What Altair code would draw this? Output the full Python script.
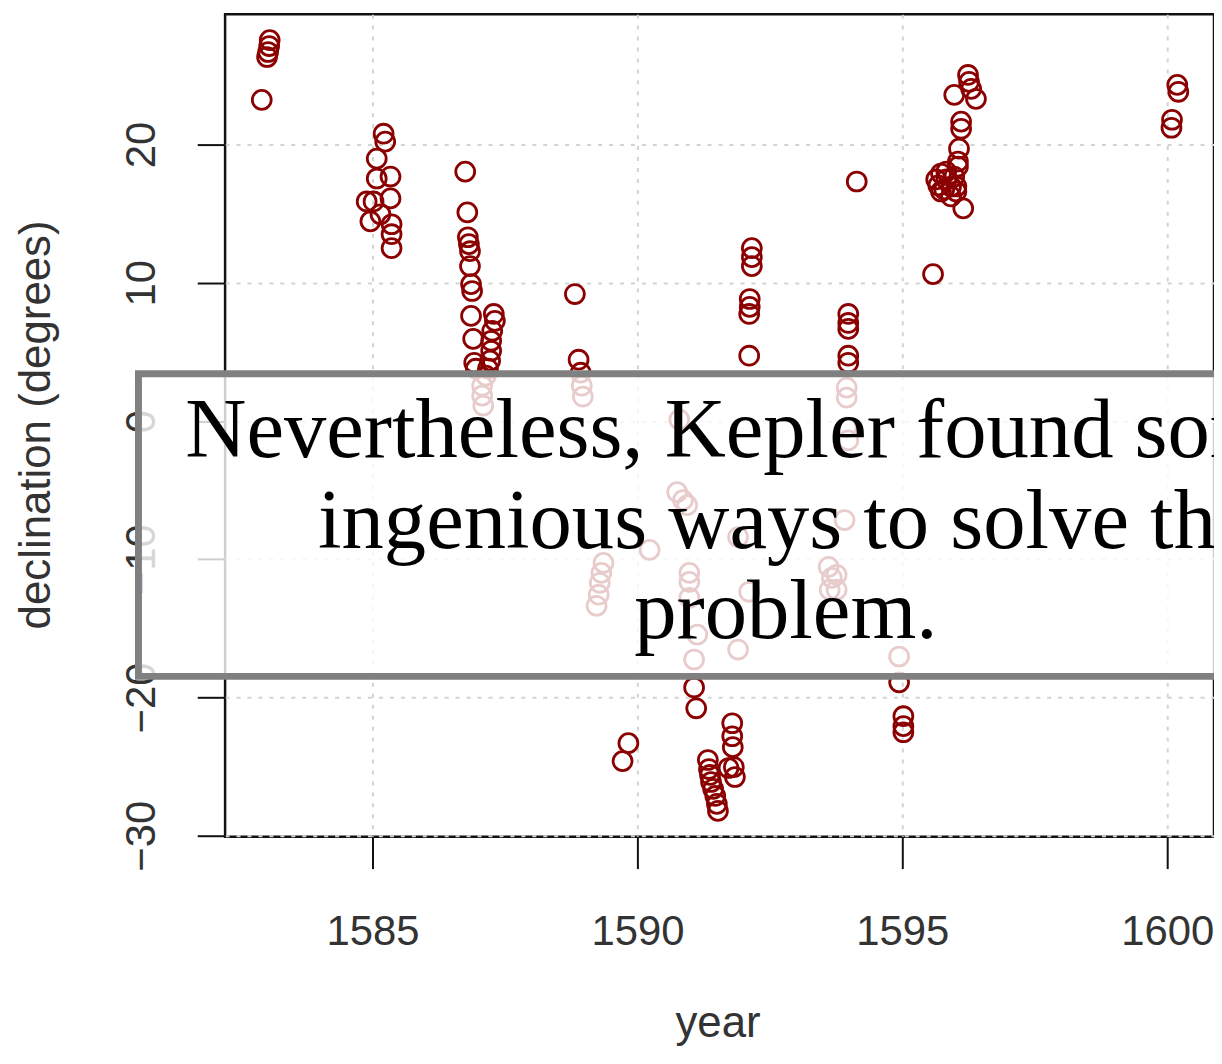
import altair as alt
import pandas as pd

years = [
    1583.06, 1583.05, 1583.03, 1583.01, 1582.91,
    1585.21, 1585.24, 1585.08, 1585.34, 1585.08, 1584.89, 1585.34, 1585.02,
    1585.15, 1584.96, 1585.36, 1585.36, 1585.36,
    1586.75, 1586.79, 1586.80, 1586.82, 1586.84, 1586.84, 1586.86, 1586.88,
    1586.86, 1586.90, 1586.92, 1586.95,
    1587.29, 1587.31, 1587.26, 1587.24, 1587.24, 1587.22, 1587.18, 1587.14,
    1587.07, 1587.07, 1587.09,
    1588.82, 1588.89, 1588.93, 1588.95, 1588.97,
    1589.36, 1589.32, 1589.29, 1589.27, 1589.23, 1589.83, 1589.72,
    1590.79, 1590.75, 1590.86, 1590.94, 1590.23, 1590.98, 1590.98, 1590.98,
    1591.13, 1591.07, 1591.07, 1591.11,
    1591.79, 1591.79, 1591.80, 1591.82, 1591.84, 1591.72,
    1591.33, 1591.35, 1591.37, 1591.39, 1591.43, 1591.47, 1591.50, 1591.52,
    1592.16, 1592.16, 1592.16, 1592.12, 1592.12, 1592.11, 1592.11,
    1591.90, 1592.11, 1591.90,
    1594.14, 1593.98, 1593.98, 1593.98, 1593.98, 1593.98,
    1593.95, 1593.95, 1593.95, 1593.98, 1593.91,
    1593.61, 1593.67, 1593.63, 1593.76, 1593.76,
    1594.94, 1594.94, 1595.02, 1595.02, 1595.02,
    1595.58,
    1596.24, 1596.26, 1596.30, 1596.39, 1595.98, 1596.11, 1596.11, 1596.07, 1596.05,
    1595.73, 1595.83, 1595.68, 1595.92, 1595.79, 1595.98, 1596.02,
    1595.64, 1595.73, 1595.92, 1596.02, 1595.83, 1596.05, 1596.15,
    1600.19, 1600.21, 1600.09, 1600.08,
]
declination = [
    27.56, 27.13, 26.70, 26.34, 23.24,
    20.79, 20.22, 18.99, 17.69, 17.55, 15.89, 16.11, 15.89,
    14.96, 14.45, 14.24, 13.52, 12.51,
    18.05, 15.10, 13.30, 12.80, 12.29, 11.21, 9.91, 9.41,
    7.61, 5.95, 4.22, 3.79,
    7.75, 7.25, 6.53, 5.81, 5.09, 4.37, 3.79, 3.29,
    2.56, 1.84, 1.12,
    9.19, 4.44, 3.50, 2.56, 1.77,
    -10.26, -10.98, -11.70, -12.56, -13.36, -23.30, -24.60,
    0.11, -5.14, -5.72, -6.08, -9.32, -10.98, -11.63, -12.78,
    -15.45, -17.25, -19.27, -20.78,
    -21.86, -22.80, -23.59, -25.03, -25.75, -25.10,
    -24.52, -25.17, -25.60, -26.11, -26.61, -27.12, -27.69, -28.20,
    12.51, 11.86, 11.21, 8.83, 8.26, 7.75, 4.73,
    -8.39, -12.35, -16.53,
    17.33, 7.75, 7.10, 6.67, 4.73, 4.22,
    2.42, 1.70, -0.46, -1.40, -7.16,
    -10.55, -11.34, -12.20, -11.12, -12.20,
    -17.03, -18.90, -21.35, -22.07, -22.51,
    10.63,
    25.04, 24.54, 24.03, 23.31, 23.60, 21.66, 21.15, 19.71, 18.78,
    17.91, 17.48, 17.05, 16.97, 16.76, 17.69, 16.61,
    17.48, 16.61, 16.25, 16.97, 18.05, 18.41, 15.39,
    24.32, 23.82, 21.80, 21.22,
]

x_ticks = [1585, 1590, 1595, 1600]
y_ticks = [-30, -20, -10, 0, 10, 20]
x_domain = [1582.218, 1600.883]
y_domain = [-30.07, 29.44]

caption_lines = ["Nevertheless, Kepler found some", "ingenious ways to solve the", "problem."]

df = pd.DataFrame({"year": years, "declination": declination})
one = pd.DataFrame({"k": [0]})

points = alt.Chart(df).mark_point(
    shape="circle", filled=False, size=360, strokeWidth=2.8,
    color="#8B0000", opacity=1
).encode(
    x=alt.X("year:Q", scale=alt.Scale(domain=x_domain, nice=False, zero=False),
            axis=alt.Axis(values=x_ticks, title="year", format="d",
                          tickSize=32, labelPadding=76, labelBaseline="alphabetic",
                          labelAlign="center", labelFlush=False,
                          titleX=494.5, titleY=201, titleBaseline="alphabetic",
                          titleAlign="center")),
    y=alt.Y("declination:Q", scale=alt.Scale(domain=y_domain, nice=False, zero=False),
            axis=alt.Axis(values=y_ticks, title="declination (degrees)",
                          tickSize=28, labelAngle=270, labelAlign="center",
                          labelBaseline="middle", labelPadding=56,
                          titleAngle=270, titleX=-189, titleY=412,
                          titleAlign="center", titleBaseline="middle")),
)

overlay = alt.Chart(one).mark_rect(
    fill="white", fillOpacity=0.8, stroke="#808080", strokeWidth=7
).encode(
    x=alt.value(-87), x2=alt.value(1215), y=alt.value(361), y2=alt.value(665)
)

def line(txt, xpos, ypos, align):
    return alt.Chart(one).mark_text(
        text=txt, font="Liberation Serif", fontSize=85, color="black",
        align=align, baseline="alphabetic"
    ).encode(x=alt.value(xpos), y=alt.value(ypos))

t1 = line(caption_lines[0], -40, 445, "left")
t2 = line(caption_lines[1], 563, 536, "center")
t3 = line(caption_lines[2], 563, 626, "center")

chart = alt.layer(points, overlay, t1, t2, t3).properties(
    width=993, height=826,
    autosize=alt.AutoSizeParams(type="none"),
    padding={"left": 218, "top": 4, "right": 0, "bottom": 212},
).configure_view(
    stroke="#111", strokeWidth=2.5
).configure_axis(
    grid=True, gridColor="#d3d3d3", gridDash=[4, 7], gridWidth=2,
    domain=False, tickColor="#111", tickWidth=2,
    labelFont="Liberation Sans", labelFontSize=42, labelColor="#333",
    labelOverlap=False,
    titleFont="Liberation Sans", titleFontSize=44, titleFontWeight="normal",
    titleColor="#333",
)

chart.save("out.html", embed_options={"renderer": "svg", "actions": False})
